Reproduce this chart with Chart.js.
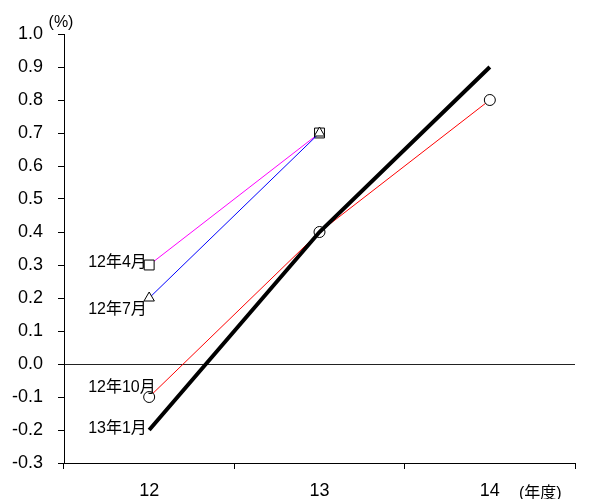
<!DOCTYPE html>
<html>
<head>
<meta charset="utf-8">
<script src="https://cdn.jsdelivr.net/npm/chart.js@4"></script>
<style>
  html, body { margin: 0; padding: 0; background: #fff; }
  #wrap { width: 601px; height: 499px; position: relative; }
</style>
</head>
<body>
<div id="wrap"><canvas id="chart" width="601" height="499"></canvas></div>
<script>
// Fiscal years on the horizontal axis
const fiscalYears = ['12', '13', '14'];

// Forecast vintages (growth rate, %)
const seriesNames = ['12年4月', '12年7月', '12年10月', '13年1月'];
const forecastApr12 = [0.3, 0.7, null];
const forecastJul12 = [0.2, 0.7, null];
const forecastOct12 = [-0.1, 0.4, 0.8];
const forecastJan13 = [-0.2, 0.4, 0.9];

// Vertical axis range and step
const yMin = -0.3;
const yMax = 1.0;
const yStep = 0.1;

const FONT = '"Liberation Sans", Arial, "Noto Sans CJK JP", sans-serif';

// Offsets (px) for the vintage names drawn beside each first point
const nameOffsets = [
  { dx: -61, dy: -2 },
  { dx: -61, dy: 12 },
  { dx: -61, dy: -9 },
  { dx: -61, dy: -1 }
];

// Draws the vintage names next to each series' first point, plus the unit captions
const annotations = {
  id: 'annotations',
  afterDatasetsDraw(chart) {
    const ctx = chart.ctx;
    ctx.save();
    ctx.fillStyle = '#000';
    ctx.font = '16px ' + FONT;
    ctx.textAlign = 'left';
    ctx.textBaseline = 'middle';
    chart.data.datasets.forEach((ds, i) => {
      const pt = chart.getDatasetMeta(i).data[0];
      const o = nameOffsets[i];
      ctx.fillText(seriesNames[i], pt.x + o.dx, pt.y + o.dy);
    });
    const xs = chart.scales.x, ys = chart.scales.y;
    ctx.font = '16px ' + FONT;
    ctx.textAlign = 'center';
    ctx.fillText('(%)', ys.right - 3, ys.top - 11);
    ctx.textAlign = 'left';
    ctx.fillText('(年度)', xs.right - 56, xs.bottom - 5);
    ctx.restore();
  }
};

new Chart(document.getElementById('chart'), {
  type: 'line',
  data: {
    labels: fiscalYears,
    datasets: [
      {
        label: seriesNames[0],
        data: forecastApr12,
        borderColor: '#FF00FF',
        borderWidth: 1,
        pointStyle: 'rect',
        pointRadius: 7,
        pointBackgroundColor: '#fff',
        pointBorderColor: '#000',
        pointBorderWidth: 1,
        order: 3
      },
      {
        label: seriesNames[1],
        data: forecastJul12,
        borderColor: '#0000FF',
        borderWidth: 1,
        pointStyle: 'triangle',
        pointRadius: 6,
        pointBackgroundColor: '#fff',
        pointBorderColor: '#000',
        pointBorderWidth: 1,
        order: 1
      },
      {
        label: seriesNames[2],
        data: forecastOct12,
        borderColor: '#FF0000',
        borderWidth: 1,
        pointStyle: 'circle',
        pointRadius: 5.5,
        pointBackgroundColor: '#fff',
        pointBorderColor: '#000',
        pointBorderWidth: 1,
        order: 2
      },
      {
        label: seriesNames[3],
        data: forecastJan13,
        borderColor: '#000',
        borderWidth: 4,
        pointRadius: 0,
        order: 0
      }
    ]
  },
  options: {
    responsive: false,
    animation: false,
    devicePixelRatio: 1,
    layout: { padding: { top: 34, right: 26, bottom: 0, left: 0 } },
    plugins: {
      legend: { display: false },
      tooltip: { enabled: false }
    },
    elements: { line: { tension: 0, fill: false } },
    scales: {
      x: {
        type: 'category',
        offset: true,
        grid: { offset: true, drawOnChartArea: false, tickLength: 6, color: '#000', lineWidth: 1 },
        border: { color: '#000', width: 1 },
        ticks: { color: '#000', font: { family: FONT, size: 18 }, padding: 11, maxRotation: 0 },
        afterFit(scale) { scale.height = 36; }
      },
      y: {
        min: yMin,
        max: yMax,
        grid: {
          drawOnChartArea: true,
          tickLength: 6,
          tickColor: '#000',
          lineWidth: 1,
          color: (c) => (c.tick && Math.abs(c.tick.value) < 1e-9 ? '#222' : 'rgba(0,0,0,0)')
        },
        border: { color: '#000', width: 1 },
        ticks: {
          stepSize: yStep,
          color: '#000',
          font: { family: FONT, size: 18 },
          padding: 15,
          callback: (v) => Number(v).toFixed(1)
        },
        afterFit(scale) { scale.width = 64; }
      }
    }
  },
  plugins: [annotations]
});
</script>
</body>
</html>
